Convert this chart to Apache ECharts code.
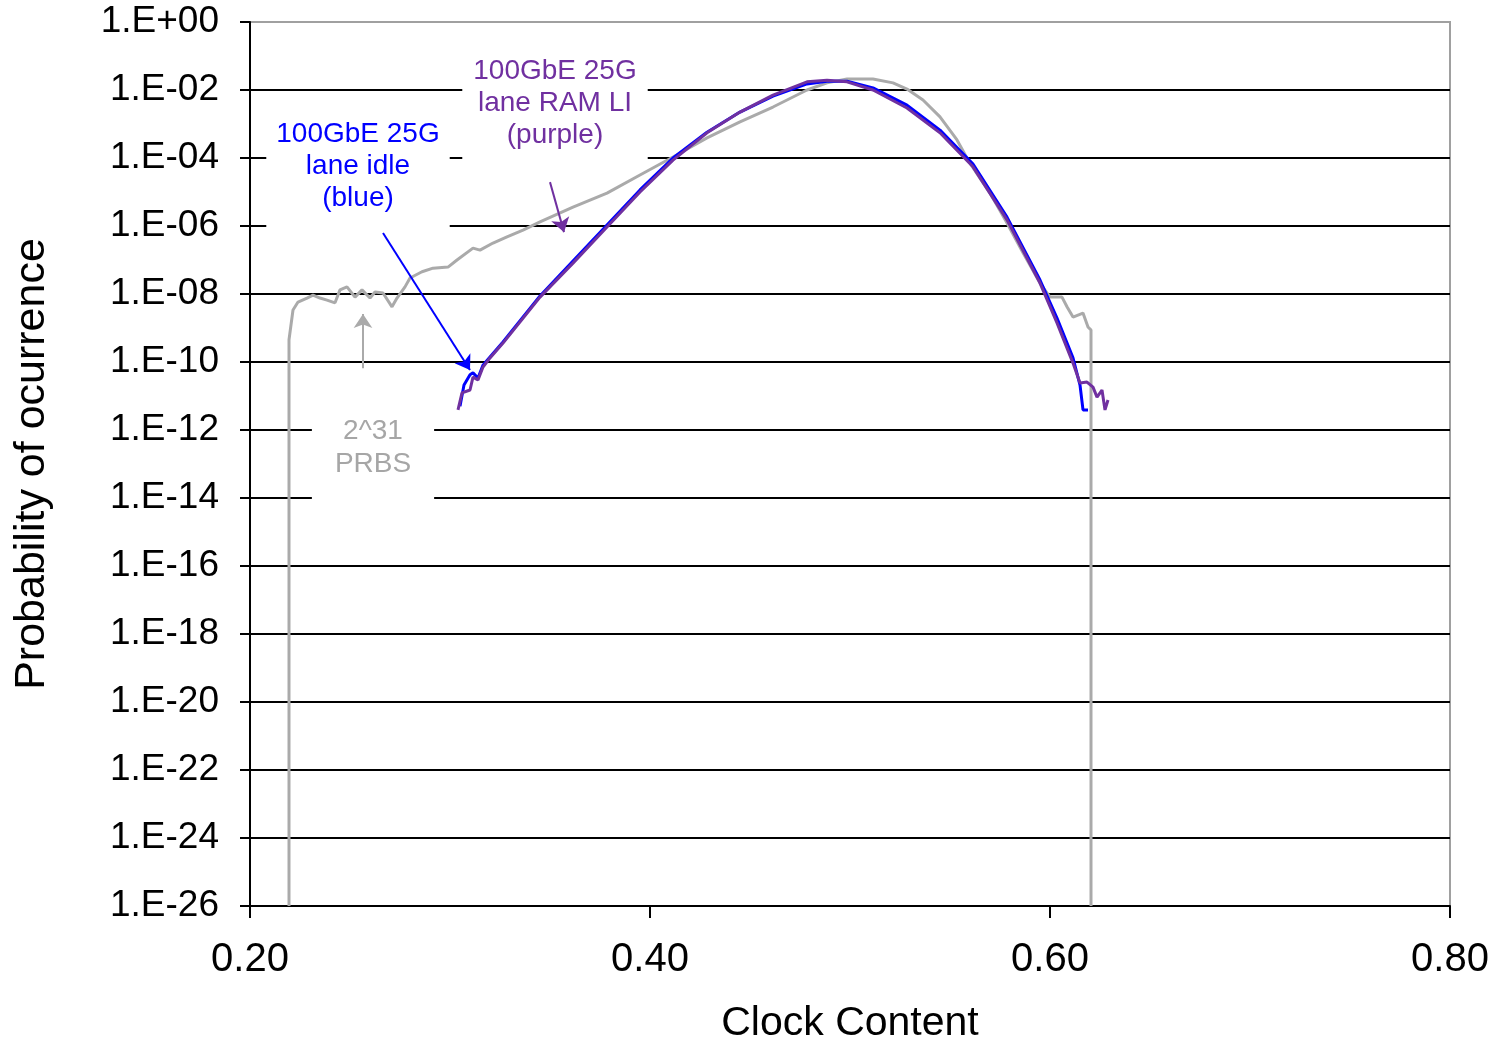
<!DOCTYPE html>
<html>
<head>
<meta charset="utf-8">
<script src="https://cdn.jsdelivr.net/npm/echarts@6/dist/echarts.min.js"></script>
<style>
  html, body { margin: 0; padding: 0; background: #fff; }
  #chart { width: 1498px; height: 1042px; }
</style>
</head>
<body>
<div id="chart"></div>
<script>
// x = clock content, y = probability of occurrence
var grayX = [0.2195, 0.2195, 0.2215, 0.224, 0.2285, 0.2315, 0.235, 0.2385, 0.2425, 0.245, 0.2485, 0.2525,
    0.256, 0.26, 0.2625, 0.2665, 0.271, 0.2735, 0.2775, 0.28, 0.286, 0.2915, 0.299, 0.3035, 0.3115, 0.315,
    0.3215, 0.3285, 0.3365, 0.345, 0.3615, 0.3785, 0.395, 0.4115, 0.4285, 0.445, 0.4615, 0.4785, 0.4885,
    0.4985, 0.5115, 0.5215, 0.5285, 0.5365, 0.545, 0.5535, 0.559, 0.57, 0.5785, 0.5865, 0.595, 0.6, 0.606,
    0.6085, 0.6115, 0.6165, 0.619, 0.6205, 0.6205];
var grayP = [1e-26, 4.5e-10, 3.4e-9, 5.8e-9, 7.6e-9, 9.3e-9, 7.6e-9, 6.6e-9, 5.5e-9, 1.32e-8, 1.62e-8, 8.1e-9,
    1.32e-8, 7.6e-9, 1.15e-8, 1.07e-8, 4.2e-9, 7.6e-9, 1.62e-8, 2.95e-8, 4.5e-8, 5.75e-8, 6.2e-8, 1.0e-7, 2.24e-7, 1.95e-7,
    3.16e-7, 4.8e-7, 7.6e-7, 1.32e-6, 3.6e-6, 9.3e-6, 3.16e-5, 1.07e-4, 3.9e-4, 1.15e-3, 3.16e-3, 1.0e-2, 1.62e-2,
    2.1e-2, 2.1e-2, 1.62e-2, 1.07e-2, 5.1e-3, 1.62e-3, 3.4e-4, 8.7e-5, 9.3e-6, 1.23e-6, 1.62e-7, 2.1e-8, 8.1e-9, 8.1e-9,
    4.2e-9, 2.1e-9, 2.75e-9, 1.07e-9, 8.7e-10, 1e-26];

var blueX = [0.305, 0.307, 0.31, 0.3115, 0.314, 0.3165, 0.32, 0.3265, 0.345, 0.3615, 0.3785, 0.395, 0.4115,
    0.4285, 0.445, 0.4615, 0.4785, 0.4885, 0.4985, 0.5115, 0.5285, 0.545, 0.5615, 0.5785, 0.595, 0.6035,
    0.6115, 0.615, 0.6165, 0.619];
var blueP = [5.0e-12, 2.1e-11, 4.2e-11, 4.8e-11, 3.4e-11, 8.1e-11, 1.41e-10, 3.9e-10, 8.7e-9, 9.3e-8, 1.07e-6, 1.15e-5, 1.0e-4,
    5.75e-4, 2.24e-3, 6.6e-3, 1.51e-2, 1.82e-2, 1.82e-2, 1.15e-2, 3.6e-3, 6.6e-4, 6.6e-5, 1.82e-6, 2.57e-8, 1.95e-9,
    1.32e-10, 2.1e-11, 3.9e-12, 3.9e-12];

var purpleX = [0.304, 0.306, 0.31, 0.3115, 0.314, 0.3165, 0.32, 0.3265, 0.345, 0.3615, 0.3785, 0.395, 0.4115,
    0.4285, 0.445, 0.4615, 0.4785, 0.4885, 0.4985, 0.5115, 0.5285, 0.545, 0.5615, 0.5785, 0.595, 0.6035,
    0.6115, 0.615, 0.6185, 0.6215, 0.6235, 0.626, 0.6275, 0.629];
var purpleP = [3.9e-12, 1.23e-11, 1.5e-11, 3.6e-11, 2.95e-11, 7.1e-11, 1.32e-10, 3.6e-10, 8.1e-9, 8.1e-8, 9.3e-7, 1.0e-5, 8.7e-5,
    5.5e-4, 2.24e-3, 7.1e-3, 1.74e-2, 1.95e-2, 1.74e-2, 1.0e-2, 2.95e-3, 5.5e-4, 5.5e-5, 1.51e-6, 2.1e-8, 1.41e-9,
    9.3e-11, 2.4e-11, 2.57e-11, 1.82e-11, 9.3e-12, 1.5e-11, 3.9e-12, 7.6e-12];

var xTicks = [0.2, 0.4, 0.6, 0.8];
var yDecades = [-26, 0];   // 1.E-26 .. 1.E+00, a tick every 2 decades

// the log axis of this ECharts build breaks at 1e-26, so the y axis runs on log10(p)
function lg(p) { return Math.log10(p); }

function zip(xs, ys) {
    var out = [];
    for (var i = 0; i < xs.length; i++) out.push([xs[i], lg(ys[i])]);
    return out;
}

var FONT = '"Liberation Sans", Arial, sans-serif';

var chart = echarts.init(document.getElementById('chart'));

var option = {
    animation: false,
    backgroundColor: '#fff',
    textStyle: { fontFamily: FONT },
    grid: {
        left: 250, right: 48, top: 22, bottom: 136,
        outerBoundsMode: 'none',
        show: true, borderColor: '#a0a0a0', borderWidth: 2
    },
    xAxis: {
        type: 'value',
        min: xTicks[0],
        max: xTicks[xTicks.length - 1],
        interval: 0.2,
        name: 'Clock Content',
        nameLocation: 'middle',
        nameGap: 97,
        nameTextStyle: { fontSize: 41, color: '#000', fontFamily: FONT },
        axisLine: { onZero: false, lineStyle: { color: '#000', width: 2 } },
        axisTick: { length: 12, lineStyle: { color: '#000', width: 2 } },
        axisLabel: {
            fontSize: 40, color: '#000', margin: 34, fontFamily: FONT,
            formatter: function (v) { return v.toFixed(2); }
        },
        splitLine: { show: false }
    },
    yAxis: {
        type: 'value',
        min: yDecades[0],
        max: yDecades[1],
        interval: 2,
        name: 'Probability of ocurrence',
        nameLocation: 'middle',
        nameGap: 196,
        nameTextStyle: { fontSize: 43, color: '#000', fontFamily: FONT },
        axisLine: { onZero: false, lineStyle: { color: '#000', width: 2 } },
        axisTick: { length: 10, lineStyle: { color: '#000', width: 2 } },
        axisLabel: {
            fontSize: 37, color: '#000', margin: 31, fontFamily: FONT,
            formatter: function (v) {
                var a = Math.abs(Math.round(v));
                return '1.E' + (v < 0 ? '-' : '+') + (a < 10 ? '0' + a : a);
            }
        },
        splitLine: { show: true, showMaxLine: false, lineStyle: { color: '#000', width: 2 } }
    },
    series: [
        {
            name: '2^31 PRBS',
            type: 'line',
            data: zip(grayX, grayP),
            showSymbol: false,
            lineStyle: { color: '#aaaaaa', width: 3 },
            itemStyle: { color: '#aaaaaa' },
            z: 3,
            markLine: {
                silent: true,
                symbol: ['none', 'arrow'],
                symbolSize: 14,
                label: { show: false },
                data: [
                    [{ coord: [0.2565, lg(6.6e-11)], lineStyle: { color: '#aaaaaa', width: 2, type: 'solid' } },
                     { coord: [0.2565, lg(2.57e-9)] }],
                    [{ coord: [0.2665, lg(6.2e-7)], lineStyle: { color: '#0000ff', width: 2, type: 'solid' } },
                     { coord: [0.31, lg(5.8e-11)] }],
                    [{ coord: [0.35, lg(1.95e-5)], lineStyle: { color: '#7030a0', width: 2, type: 'solid' } },
                     { coord: [0.357, lg(6.6e-7)] }]
                ]
            },
            markPoint: {
                silent: true,
                symbol: 'rect',
                symbolSize: 0,
                data: [
                    {
                        coord: [0.254, lg(5.9e-5)],
                        label: {
                            show: true, position: 'inside',
                            formatter: '100GbE 25G\nlane idle\n(blue)',
                            color: '#0000ff', fontSize: 28, lineHeight: 32, align: 'center',
                            backgroundColor: '#fff', padding: [8, 10, 26, 10]
                        }
                    },
                    {
                        coord: [0.3525, lg(4.2e-3)],
                        label: {
                            show: true, position: 'inside',
                            formatter: '100GbE 25G\nlane RAM LI\n(purple)',
                            color: '#7030a0', fontSize: 28, lineHeight: 32, align: 'center',
                            backgroundColor: '#fff', padding: [6, 11, 12, 11]
                        }
                    },
                    {
                        coord: [0.2615, lg(3.0e-13)],
                        label: {
                            show: true, position: 'inside',
                            formatter: '2^31\nPRBS',
                            color: '#a6a6a6', fontSize: 28, lineHeight: 33, align: 'center',
                            backgroundColor: '#fff', padding: [6, 23, 50, 23]
                        }
                    }
                ]
            }
        },
        {
            name: '100GbE 25G lane idle',
            type: 'line',
            data: zip(blueX, blueP),
            showSymbol: false,
            lineStyle: { color: '#0000ff', width: 3 },
            itemStyle: { color: '#0000ff' },
            z: 4
        },
        {
            name: '100GbE 25G lane RAM LI',
            type: 'line',
            data: zip(purpleX, purpleP),
            showSymbol: false,
            lineStyle: { color: '#7030a0', width: 3 },
            itemStyle: { color: '#7030a0' },
            z: 5
        }
    ]
};

chart.setOption(option);
</script>
</body>
</html>
